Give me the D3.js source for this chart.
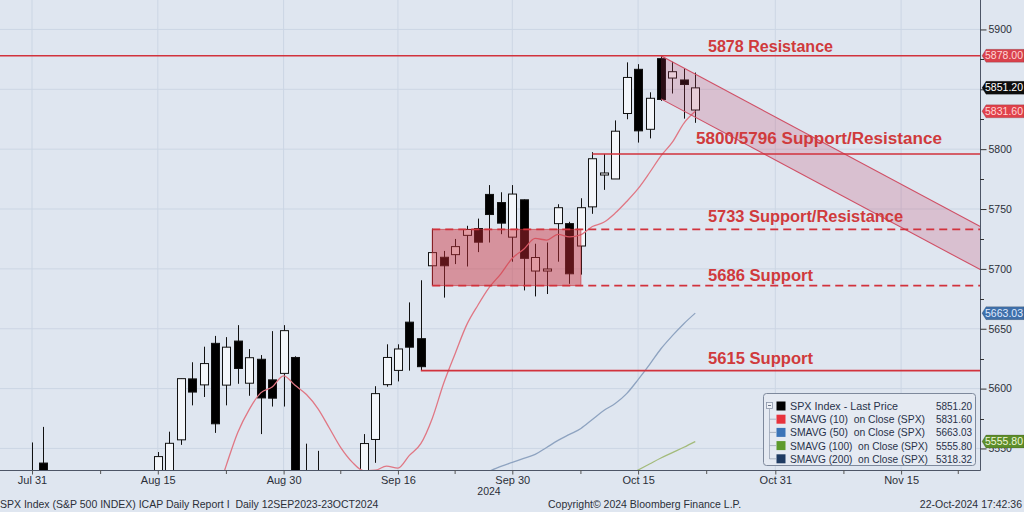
<!DOCTYPE html>
<html><head><meta charset="utf-8">
<script src="https://cdn.jsdelivr.net/npm/d3@7"></script>
<style>
html,body{margin:0;padding:0;background:#dfe6f0;}
svg{display:block;font-family:"Liberation Sans",Arial,sans-serif;}
</style></head><body>
<svg id="c" width="1024" height="512"></svg>
<script>
// ---------------- DATA ----------------
const candleDates = ["2024-07-31","2024-08-01","2024-08-02","2024-08-05","2024-08-06","2024-08-07","2024-08-08","2024-08-09","2024-08-12","2024-08-13","2024-08-14","2024-08-15","2024-08-16","2024-08-19","2024-08-20","2024-08-21","2024-08-22","2024-08-23","2024-08-26","2024-08-27","2024-08-28","2024-08-29","2024-08-30","2024-09-03","2024-09-04","2024-09-05","2024-09-06","2024-09-09","2024-09-10","2024-09-11","2024-09-12","2024-09-13","2024-09-16","2024-09-17","2024-09-18","2024-09-19","2024-09-20","2024-09-23","2024-09-24","2024-09-25","2024-09-26","2024-09-27","2024-09-30","2024-10-01","2024-10-02","2024-10-03","2024-10-04","2024-10-07","2024-10-08","2024-10-09","2024-10-10","2024-10-11","2024-10-14","2024-10-15","2024-10-16","2024-10-17","2024-10-18","2024-10-21","2024-10-22"];
const openP  = [5505.6,5537.8,5376.6,5151.1,5206.4,5293.1,5252.6,5314.1,5351.6,5377.0,5442.0,5508.7,5530.5,5557.2,5608.1,5603.1,5637.8,5602.9,5639.7,5604.5,5624.5,5607.3,5612.7,5626.0,5506.7,5520.1,5507.3,5442.1,5490.5,5496.4,5557.5,5603.3,5615.2,5655.5,5641.7,5702.6,5709.7,5711.9,5728.0,5733.7,5762.2,5755.4,5726.5,5757.7,5698.2,5698.2,5737.8,5737.8,5719.1,5751.8,5778.4,5775.1,5829.8,5866.7,5816.6,5875.6,5859.4,5857.8,5832.7];
const highP  = [5555.0,5568.0,5383.9,5250.9,5312.3,5330.6,5328.0,5358.1,5371.2,5436.5,5463.2,5547.0,5564.0,5608.3,5622.0,5635.0,5644.0,5643.0,5653.0,5633.0,5628.0,5648.0,5653.0,5627.0,5554.0,5548.0,5522.5,5484.2,5497.9,5562.0,5602.0,5637.0,5637.0,5672.0,5690.5,5733.6,5715.0,5725.0,5736.0,5742.0,5770.0,5764.0,5770.0,5758.0,5721.0,5722.0,5754.0,5739.3,5759.0,5797.5,5796.0,5824.0,5872.5,5871.0,5847.5,5878.5,5873.0,5867.5,5864.0];
const lowP   = [5505.6,5410.4,5302.0,5119.3,5193.6,5195.5,5233.9,5309.0,5324.4,5377.0,5421.1,5501.6,5525.5,5553.0,5586.0,5593.0,5563.0,5586.0,5604.0,5594.0,5562.0,5585.0,5585.0,5504.3,5503.6,5493.3,5402.6,5434.5,5441.7,5407.0,5538.0,5601.6,5606.0,5615.0,5615.1,5686.4,5676.0,5704.0,5702.0,5714.0,5722.0,5729.0,5706.0,5682.0,5677.0,5679.0,5706.0,5687.5,5695.2,5746.0,5766.0,5775.1,5825.0,5805.5,5809.0,5840.3,5846.5,5825.5,5822.0];
const closeP = [5522.3,5446.7,5346.6,5186.3,5240.0,5199.5,5319.3,5344.2,5344.4,5434.4,5455.2,5543.2,5554.3,5608.3,5597.1,5620.9,5570.6,5634.6,5616.8,5625.8,5592.2,5592.0,5648.4,5528.9,5520.1,5503.4,5408.4,5471.1,5495.5,5554.1,5595.8,5626.0,5633.1,5634.6,5618.3,5713.6,5702.6,5718.6,5732.9,5722.3,5745.4,5738.2,5762.5,5708.8,5709.5,5699.9,5751.1,5695.9,5751.1,5792.0,5780.1,5815.0,5859.9,5815.3,5842.5,5841.5,5864.7,5854.0,5851.2];

const sma10Dates = ["2024-08-14","2024-08-15","2024-08-16","2024-08-19","2024-08-20","2024-08-21","2024-08-22","2024-08-23","2024-08-26","2024-08-27","2024-08-28","2024-08-29","2024-08-30","2024-09-03","2024-09-04","2024-09-05","2024-09-06","2024-09-09","2024-09-10","2024-09-11","2024-09-12","2024-09-13","2024-09-16","2024-09-17","2024-09-18","2024-09-19","2024-09-20","2024-09-23","2024-09-24","2024-09-25","2024-09-26","2024-09-27","2024-09-30","2024-10-01","2024-10-02","2024-10-03","2024-10-04","2024-10-07","2024-10-08","2024-10-09","2024-10-10","2024-10-11","2024-10-14","2024-10-15","2024-10-16","2024-10-17","2024-10-18","2024-10-21","2024-10-22"];
const sma10Values = [5331.7,5341.3,5362.1,5404.3,5440.0,5482.1,5507.3,5536.3,5563.5,5582.7,5596.4,5601.3,5610.7,5602.7,5595.0,5583.3,5567.1,5550.7,5538.6,5531.4,5531.8,5535.2,5533.6,5544.2,5554.0,5575.1,5604.5,5629.2,5653.0,5669.8,5684.7,5695.9,5708.9,5716.3,5725.4,5724.1,5728.9,5726.7,5728.5,5735.4,5738.9,5746.6,5756.3,5767.0,5780.3,5794.4,5805.8,5821.6,5831.6];

const sma50Dates = ["2024-09-26","2024-09-27","2024-09-30","2024-10-01","2024-10-02","2024-10-03","2024-10-04","2024-10-07","2024-10-08","2024-10-09","2024-10-10","2024-10-11","2024-10-14","2024-10-15","2024-10-16","2024-10-17","2024-10-18","2024-10-21","2024-10-22"];
const sma50Values = [5531.0,5535.0,5538.3,5541.7,5545.0,5550.8,5556.7,5561.7,5566.7,5574.2,5581.7,5587.5,5595.8,5607.5,5620.0,5633.3,5644.2,5654.2,5663.03];

const sma100Dates = ["2024-10-14","2024-10-15","2024-10-16","2024-10-17","2024-10-18","2024-10-21","2024-10-22"];
const sma100Values = [5527.0,5532.0,5537.0,5542.0,5546.5,5551.0,5555.8];

const xTickDates  = ["2024-07-31","2024-08-15","2024-08-30","2024-09-16","2024-09-30","2024-10-15","2024-10-31","2024-11-15"];
const xTickLabels = ["Jul 31","Aug 15","Aug 30","Sep 16","Sep 30","Oct 15","Oct 31","Nov 15"];
const xMinorDates = ["2024-08-08","2024-08-23","2024-09-09","2024-09-23","2024-10-08","2024-10-23","2024-11-08","2024-11-22"];
const yTickValues = [5550,5600,5650,5700,5750,5800,5850,5900];
const yLabelValues = [5550,5600,5650,5700,5750,5800,5900];
const yMinorValues = [5575,5625,5675,5725,5775,5825,5875];

const levelValues = [5878, 5796, 5733, 5686, 5615];
const levelStart  = [null, "2024-10-09", "2024-09-19", "2024-09-19", "2024-09-18"];
const levelDashed = [false, false, true, true, false];
const levelLabels = ["5878 Resistance","5800/5796 Support/Resistance","5733 Support/Resistance","5686 Support","5615 Support"];

const zoneDates  = ["2024-09-19","2024-10-08"];
const zoneValues = [5733, 5686];

const channelDates  = ["2024-10-17","2024-11-26"];
const channelTop    = [5878, 5735];
const channelBottom = [5842, 5699];

const tagValues = [5878.00, 5851.20, 5831.60, 5663.03, 5555.80];
const tagLabels = ["5878.00","5851.20","5831.60","5663.03","5555.80"];

const legendLabels = ["SPX Index - Last Price","SMAVG (10)  on Close (SPX)","SMAVG (50)  on Close (SPX)","SMAVG (100)  on Close (SPX)","SMAVG (200)  on Close (SPX)"];
const legendValues = ["5851.20","5831.60","5663.03","5555.80","5318.32"];

// ---------------- STYLE / LAYOUT ----------------
const W = 1024, H = 512, plotR = 980, plotB = 470;
const red = "#d2323c", labelRed = "#d03a3c";
const tagFill = ["#d9414c","#0d0d0d","#e0414b","#3f6fa9","#5d8d2b"];
const tagText = ["#ffd6d6","#ffffff","#ffd6d6","#dfeaff","#eef7d8"];
const legendColors = ["#000000","#e8333d","#3b74b8","#5d9a2d","#1f3b62"];

// trading-day calendar
const hol = new Set(["2024-09-02","2024-11-28"]);
const days = [];
for (let t = Date.UTC(2024,6,26); t <= Date.UTC(2024,11,6); t += 864e5) {
  const d = new Date(t), wd = d.getUTCDay(), s = d.toISOString().slice(0,10);
  if (wd > 0 && wd < 6 && !hol.has(s)) days.push(s);
}
const idx = new Map(days.map((s,i)=>[s,i]));
const di = s => idx.get(s);

const x = d3.scaleLinear().domain([0.2, 85.9]).range([0, plotR]);
const y = d3.scaleLinear().domain([5532, 5924.6]).range([plotB, 0]);

const svg = d3.select("#c");
svg.append("rect").attr("width",W).attr("height",H).attr("fill","#dfe6f0");
svg.append("defs").append("clipPath").attr("id","clip")
  .append("rect").attr("x",0).attr("y",0).attr("width",plotR).attr("height",plotB);

const plot = svg.append("g").attr("clip-path","url(#clip)");

// gridlines
plot.selectAll(".hg").data(yTickValues).enter().append("line")
  .attr("x1",0).attr("x2",plotR).attr("y1",d=>y(d)).attr("y2",d=>y(d))
  .attr("stroke","#ccd6e4").attr("stroke-width",1);
plot.selectAll(".vg").data(xTickDates).enter().append("line")
  .attr("y1",0).attr("y2",plotB).attr("x1",d=>x(di(d))).attr("x2",d=>x(di(d)))
  .attr("stroke","#ccd6e4").attr("stroke-width",1);

// candles
const bw = (x(1)-x(0))*0.7;
const cg = plot.append("g");
candleDates.forEach((d,i)=>{
  const cx = Math.round(x(di(d)))+0.5;
  const o=openP[i], c=closeP[i], hi=highP[i], lo=lowP[i];
  cg.append("line").attr("x1",cx).attr("x2",cx).attr("y1",y(hi)).attr("y2",y(lo))
    .attr("stroke","#111").attr("stroke-width",1);
  const top = y(Math.max(o,c)), bot = y(Math.min(o,c));
  cg.append("rect").attr("x",cx-bw/2).attr("y",top).attr("width",bw).attr("height",Math.max(1,bot-top))
    .attr("fill", c>=o ? "#f3f6fa" : "#000").attr("stroke","#111").attr("stroke-width",1);
});

// moving averages
const line = d3.line().x(p=>x(di(p[0]))).y(p=>y(p[1])).curve(d3.curveMonotoneX);
plot.append("path").datum(sma100Dates.map((d,i)=>[d,sma100Values[i]])).attr("d",line)
  .attr("fill","none").attr("stroke","#a3bb7b").attr("stroke-width",1.3);
plot.append("path").datum(sma50Dates.map((d,i)=>[d,sma50Values[i]])).attr("d",line)
  .attr("fill","none").attr("stroke","#8ea3c0").attr("stroke-width",1.3);
plot.append("path").datum(sma10Dates.map((d,i)=>[d,sma10Values[i]])).attr("d",line)
  .attr("fill","none").attr("stroke","#e07784").attr("stroke-width",1.3);

// zone rectangle
plot.append("rect")
  .attr("x",x(di(zoneDates[0]))).attr("width",x(di(zoneDates[1]))-x(di(zoneDates[0])))
  .attr("y",y(zoneValues[0])).attr("height",y(zoneValues[1])-y(zoneValues[0]))
  .attr("fill","rgba(205,44,55,0.45)").attr("stroke","rgba(200,40,50,0.6)").attr("stroke-width",1);

// channel
const cx0 = x(di(channelDates[0])), cx1 = x(di(channelDates[1]));
plot.append("path")
  .attr("d",`M${cx0},${y(channelTop[0])} L${cx1},${y(channelTop[1])} L${cx1},${y(channelBottom[1])} L${cx0},${y(channelBottom[0])} Z`)
  .attr("fill","rgba(195,60,95,0.22)").attr("stroke","none");
[channelTop, channelBottom].forEach(v=>{
  plot.append("line").attr("x1",cx0).attr("y1",y(v[0])).attr("x2",cx1).attr("y2",y(v[1]))
    .attr("stroke","#d05066").attr("stroke-width",1.1);
});

// level lines
levelValues.forEach((v,i)=>{
  const x0 = levelStart[i] ? x(di(levelStart[i])) : 0;
  plot.append("line").attr("x1",x0).attr("x2",plotR).attr("y1",y(v)).attr("y2",y(v))
    .attr("stroke",red).attr("stroke-width",1.6)
    .attr("stroke-dasharray", levelDashed[i] ? "8,5" : null);
});

// level labels
const labelX = [708, 696, 708, 708, 708];
const labelDy = [-4, -10, -7, -5, -7];
const labelW = [125, 246, 195, 105, 105];
levelLabels.forEach((t,i)=>{
  svg.append("text").attr("x",labelX[i]).attr("y",y(levelValues[i])+labelDy[i])
    .attr("font-size",16).attr("font-weight","bold").attr("fill",labelRed)
    .attr("textLength",labelW[i]).attr("lengthAdjust","spacingAndGlyphs").text(t);
});

// axes
svg.append("line").attr("x1",0).attr("x2",plotR+0.5).attr("y1",plotB+0.5).attr("y2",plotB+0.5)
  .attr("stroke","#4d5566").attr("stroke-width",1);
svg.append("line").attr("x1",plotR+0.5).attr("x2",plotR+0.5).attr("y1",0).attr("y2",plotB+0.5)
  .attr("stroke","#4d5566").attr("stroke-width",1);

const yAx = svg.append("g").attr("transform",`translate(${plotR+0.5},0)`)
  .call(d3.axisRight(y).tickValues(yTickValues).tickSize(6).tickPadding(2)
    .tickFormat(d => yLabelValues.includes(d) ? d3.format("d")(d) : ""));
yAx.select(".domain").remove();
yAx.selectAll("line").attr("stroke","#333");
yAx.selectAll("text").attr("font-size",10.5).attr("fill","#2b2f38").attr("font-family","Liberation Sans, Arial, sans-serif");
svg.selectAll(".ymin").data(yMinorValues).enter().append("line")
  .attr("x1",plotR).attr("x2",plotR+4).attr("y1",d=>Math.round(y(d))+0.5).attr("y2",d=>Math.round(y(d))+0.5)
  .attr("stroke","#333");

const xAx = svg.append("g").attr("transform",`translate(0,${plotB+0.5})`)
  .call(d3.axisBottom(x).tickValues(xTickDates.map(di)).tickSize(4).tickPadding(2)
    .tickFormat((d,i)=>xTickLabels[i]));
xAx.select(".domain").remove();
xAx.selectAll("line").attr("stroke","#555");
xAx.selectAll("text").attr("font-size",11).attr("fill","#2b2f38").attr("font-family","Liberation Sans, Arial, sans-serif");
svg.selectAll(".xmin").data(xMinorDates).enter().append("line")
  .attr("x1",d=>x(di(d))).attr("x2",d=>x(di(d))).attr("y1",plotB).attr("y2",plotB+4)
  .attr("stroke","#555");

// right tags
tagValues.forEach((v,i)=>{
  const yy = y(v);
  svg.append("path").attr("d",`M${plotR+2},${yy} L${plotR+6},${yy-6.5} L${W},${yy-6.5} L${W},${yy+6.5} L${plotR+6},${yy+6.5} Z`)
    .attr("fill",tagFill[i]).attr("stroke","rgba(0,0,0,0.25)").attr("stroke-width",0.6);
  svg.append("text").attr("x",plotR+5).attr("y",yy+3.6).attr("font-size",10)
    .attr("textLength",38).attr("lengthAdjust","spacingAndGlyphs")
    .attr("fill",tagText[i]).text(tagLabels[i]);
});

// legend
const lg = svg.append("g");
lg.append("rect").attr("x",763.5).attr("y",393.5).attr("width",212).attr("height",72).attr("rx",3)
  .attr("fill","#e5eaf2").attr("stroke","#7e899c").attr("stroke-width",1);
lg.append("rect").attr("x",766.5).attr("y",402.5).attr("width",6).attr("height",6)
  .attr("fill","#eef1f6").attr("stroke","#8a95a8").attr("stroke-width",0.8);
lg.append("line").attr("x1",768).attr("x2",771).attr("y1",405.5).attr("y2",405.5).attr("stroke","#6b7589");
lg.append("line").attr("x1",769.5).attr("x2",769.5).attr("y1",409).attr("y2",459).attr("stroke","#9aa4b5").attr("stroke-width",0.8);
const legendW = [108, 135, 135, 138, 138];
legendLabels.forEach((t,i)=>{
  const ry = 406 + i*13.2;
  if(i>0) lg.append("line").attr("x1",769.5).attr("x2",776).attr("y1",ry).attr("y2",ry).attr("stroke","#9aa4b5").attr("stroke-width",0.8);
  lg.append("rect").attr("x",776.5).attr("y",ry-4.5).attr("width",9).attr("height",9).attr("fill",legendColors[i]);
  lg.append("text").attr("x",790).attr("y",ry+4).attr("font-size",11).attr("fill","#28324a")
    .attr("xml:space","preserve").attr("textLength",legendW[i]).attr("lengthAdjust","spacingAndGlyphs").text(t);
  lg.append("text").attr("x",972).attr("y",ry+4).attr("font-size",11).attr("fill","#28324a").attr("text-anchor","end")
    .attr("textLength",36).attr("lengthAdjust","spacingAndGlyphs").text(legendValues[i]);
});

// footer texts
svg.append("text").attr("x",489).attr("y",495).attr("font-size",10.5).attr("fill","#2b2f38").attr("text-anchor","middle").text("2024");
svg.append("text").attr("x",0).attr("y",508).attr("font-size",10.5).attr("fill","#2b2f38").attr("xml:space","preserve")
  .text("SPX Index (S&P 500 INDEX) ICAP Daily Report I  Daily 12SEP2023-23OCT2024");
svg.append("text").attr("x",548).attr("y",508).attr("font-size",10.5).attr("fill","#2b2f38")
  .text("Copyright\u00A9 2024 Bloomberg Finance L.P.");
svg.append("text").attr("x",1022).attr("y",508).attr("font-size",10.5).attr("fill","#2b2f38").attr("text-anchor","end")
  .text("22-Oct-2024 17:42:36");
</script>
</body></html>
